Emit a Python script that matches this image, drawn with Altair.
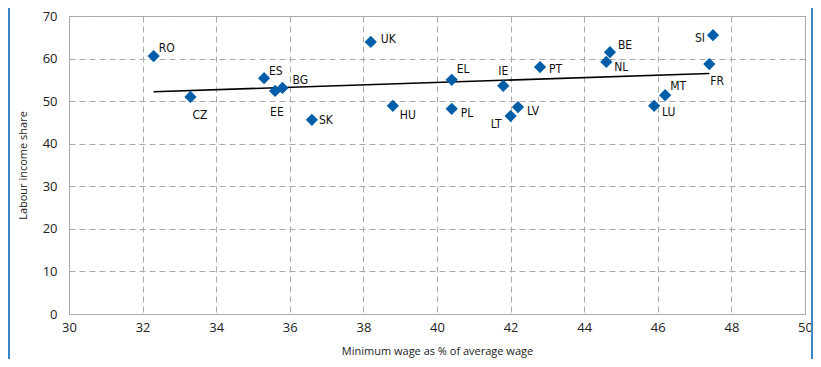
import altair as alt
import pandas as pd

countries = ["RO", "CZ", "ES", "EE", "BG", "SK", "UK", "HU", "EL", "PL",
             "IE", "LT", "LV", "PT", "NL", "BE", "LU", "MT", "FR", "SI"]
min_wage = [32.3, 33.3, 35.3, 35.6, 35.8, 36.6, 38.2, 38.8, 40.4, 40.4,
            41.8, 42.0, 42.2, 42.8, 44.6, 44.7, 45.9, 46.2, 47.4, 47.5]
labour_share = [60.6, 51.0, 55.4, 52.4, 53.1, 45.6, 63.9, 48.9, 55.0, 48.2,
                53.6, 46.5, 48.6, 58.0, 59.2, 61.5, 48.9, 51.4, 58.7, 65.5]

trend_x = [32.3, 47.4]
trend_y = [52.2, 56.5]

x_ticks = [30, 32, 34, 36, 38, 40, 42, 44, 46, 48, 50]
y_ticks = [0, 10, 20, 30, 40, 50, 60, 70]

df = pd.DataFrame({"country": countries, "mw": min_wage, "ls": labour_share})
trend = pd.DataFrame({"mw": trend_x, "ls": trend_y})

# label offsets (style): dx, dy, align
label_style = {
    "RO": (5, -8, "left"), "CZ": (2, 18, "left"), "ES": (5, -7, "left"),
    "EE": (-5, 21, "left"), "BG": (10, -8, "left"), "SK": (7, 0, "left"),
    "UK": (10, -3, "left"), "HU": (7, 9, "left"), "EL": (5, -11, "left"),
    "PL": (9, 4, "left"), "IE": (-5, -15, "left"), "LT": (-9, 8, "right"),
    "LV": (9, 4, "left"), "PT": (9, 2, "left"), "NL": (8, 5, "left"),
    "BE": (8, -7, "left"), "LU": (8, 6, "left"), "MT": (5, -9, "left"),
    "FR": (1, 17, "left"), "SI": (-8, 3, "right"),
}

BLUE = "#005ea8"
GRID = "#a8a8a8"

xscale = alt.Scale(domain=[30, 50], nice=False, zero=False)
yscale = alt.Scale(domain=[0, 70], nice=False)

xenc = alt.X("mw:Q", scale=xscale,
             axis=alt.Axis(values=x_ticks, title="Minimum wage as % of average wage",
                           grid=True, gridDash=[6, 4], gridColor=GRID, gridOpacity=1,
                           domainColor="#aaaaaa", ticks=False, labelPadding=7,
                           labelFlush=False,
                           labelFont="Open Sans", labelFontSize=13, labelColor="#222",
                           titleFont="Open Sans", titleFontSize=11, titleFontWeight="normal",
                           titleColor="#222", titlePadding=11))
yenc = alt.Y("ls:Q", scale=yscale,
             axis=alt.Axis(values=y_ticks, title="Labour income share",
                           grid=True, gridDash=[6, 4], gridColor=GRID, gridOpacity=1,
                           domainColor="#aaaaaa", ticks=False, labelPadding=12,
                           labelFlush=False,
                           labelFont="Open Sans", labelFontSize=13, labelColor="#222",
                           titleFont="Open Sans", titleFontSize=11, titleFontWeight="normal",
                           titleColor="#222", titlePadding=14))

base = alt.Chart(df)

points = base.mark_point(shape="diamond", filled=True, size=150, color=BLUE, opacity=1).encode(
    x=xenc, y=yenc)

line = alt.Chart(trend).mark_line(color="black", strokeWidth=1.6).encode(
    x=alt.X("mw:Q", scale=xscale), y=alt.Y("ls:Q", scale=yscale))

labels = []
for c, (dx, dy, al) in label_style.items():
    labels.append(
        base.transform_filter(alt.datum.country == c)
        .mark_text(dx=dx, dy=dy, align=al, baseline="middle",
                   font="DejaVu Sans Condensed", fontSize=12, color="#111")
        .encode(x=alt.X("mw:Q", scale=xscale), y=alt.Y("ls:Q", scale=yscale), text="country:N")
    )

edge_l = alt.Chart(df).mark_rule(color="#3a86c8", strokeWidth=2).encode(
    x=alt.value(-60), y=alt.value(-8), y2=alt.value(351))
edge_r = alt.Chart(df).mark_rule(color="#3a86c8", strokeWidth=2).encode(
    x=alt.value(743), y=alt.value(-8), y2=alt.value(351))

chart = alt.layer(line, points, *labels, edge_l, edge_r).properties(
    width=736, height=298,
    padding={"left": 61, "top": 8, "right": 8, "bottom": 45},
    autosize=alt.AutoSizeParams(type="none"),
).configure_view(stroke="#aaaaaa", strokeWidth=1)

chart.save("out.html", embed_options={"renderer": "svg", "actions": False})
